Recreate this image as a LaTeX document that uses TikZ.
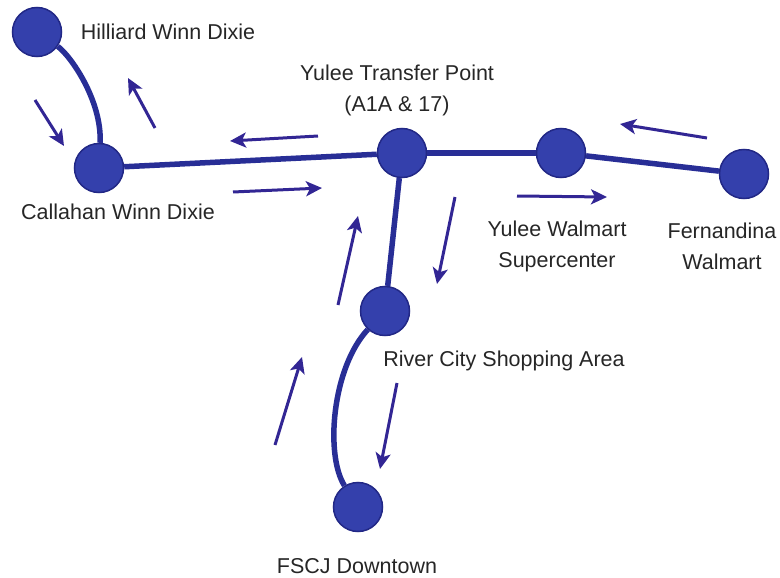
\documentclass[tikz,border=0pt]{standalone}
\usepackage{fontspec}
\setmainfont{Liberation Sans}
\usepackage{xcolor}
\definecolor{routeblue}{RGB}{40,46,150}
\definecolor{stopblue}{RGB}{52,64,172}
\definecolor{stopedge}{RGB}{34,40,134}
\definecolor{arrowblue}{RGB}{50,38,148}
\definecolor{labelgray}{gray}{0.15}
\usepackage{tikz}
\usetikzlibrary{arrows.meta, positioning}

\begin{document}
\begin{tikzpicture}[x=1pt, y=-1pt,
	busstop/.style={circle, fill=stopblue, draw=stopedge, line width=1.5pt, minimum size=49pt, inner sep=0pt},
	route/.style={routeblue, line width=5.5pt},
	flow/.style={arrowblue, line width=3pt, -{Stealth[length=16pt, width=15pt, inset=4pt]}},
	stoplabel/.style={text=labelgray, font=\fontsize{21.5}{31}\selectfont, align=center, inner sep=0pt}]

\useasboundingbox (0,0) rectangle (780,578);

% stops
\node[busstop] (hilliard)   at (37, 32)  {};
\node[busstop] (callahan)   at (99, 168) {};
\node[busstop] (transfer)   at (402, 153) {};
\node[busstop] (walmart)    at (561, 153) {};
\node[busstop] (fernandina) at (744, 174) {};
\node[busstop] (rivercity)  at (385, 311) {};
\node[busstop] (fscj)       at (358, 507) {};

% routes
\draw[route] (hilliard) .. controls (70, 55) and (102, 100) .. (callahan);
\draw[route] (callahan) -- (transfer);
\draw[route] (transfer) -- (walmart);
\draw[route] (walmart) -- (fernandina);
\draw[route] (transfer) -- (rivercity);
\draw[route] (rivercity) .. controls (332, 368) and (325, 455) .. (fscj);

% direction arrows
\foreach \xa/\ya/\xb/\yb in {35/100/64/146, 155/128/128/78, 318/136/230/141, 233/192/322/188,
	707/138/620/124, 517/196/607/197, 338/305/358/216, 455/197/437/284,
	275/445/302/357, 397/383/380/469} {
	\draw[flow] (\xa, \ya) -- (\xb, \yb);
}

% labels
\node[stoplabel] (hilliard label)   at (168, 32)  {Hilliard Winn Dixie};
\node[stoplabel] (transfer label)   at (397, 90)  {Yulee Transfer Point\\(A1A \& 17)};
\node[stoplabel] (callahan label)   at (118, 212) {Callahan Winn Dixie};
\node[stoplabel] (walmart label)    at (557, 246) {Yulee Walmart\\Supercenter};
\node[stoplabel] (fernandina label) at (722, 246) {Fernandina\\Walmart};
\node[stoplabel] (rivercity label)  at (504, 361) {River City Shopping Area};
\node[stoplabel] (fscj label)       at (357, 566) {FSCJ Downtown};

\end{tikzpicture}
\end{document}
